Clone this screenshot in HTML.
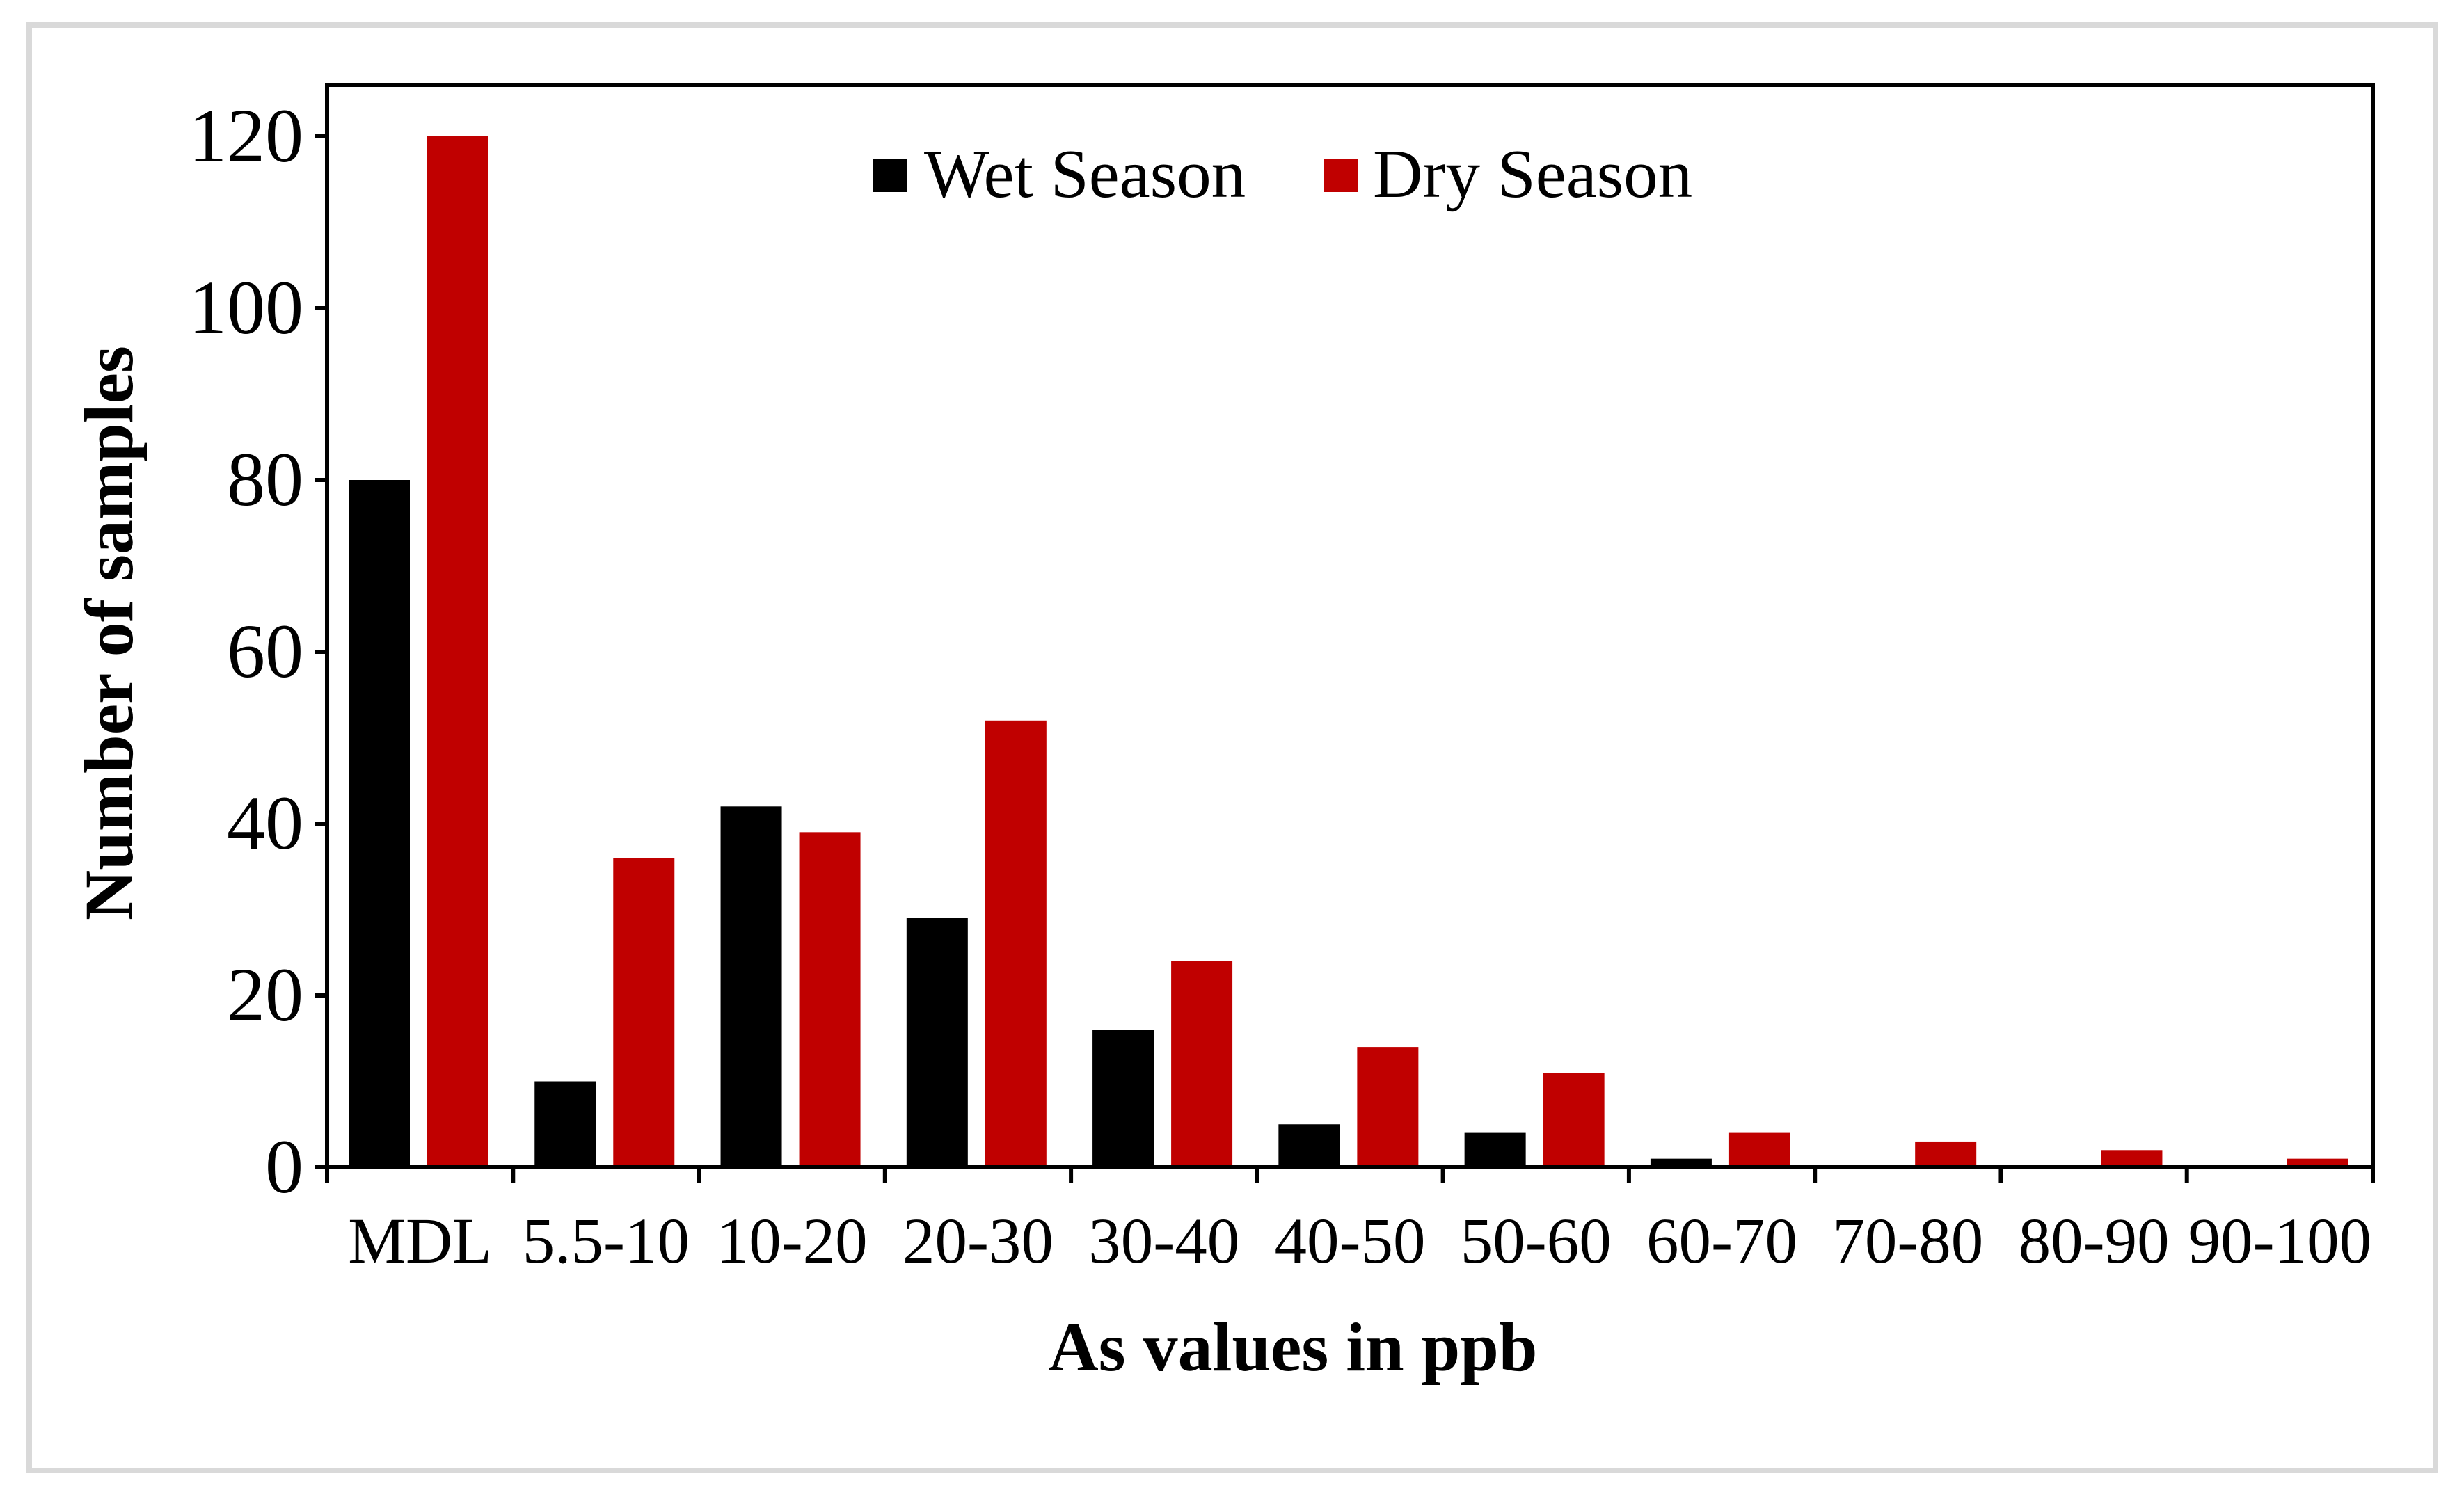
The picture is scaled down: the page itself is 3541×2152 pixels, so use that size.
<!DOCTYPE html>
<html><head><meta charset="utf-8"><style>
body{margin:0;background:#fff}
svg{display:block}
text{font-family:"Liberation Serif",serif;fill:#000}
</style></head><body>
<svg id="chart" width="3541" height="2152" viewBox="0 0 3541 2152">
<rect x="42" y="36" width="3458" height="2078" fill="#fff" stroke="#d9d9d9" stroke-width="8"/>
<g id="plot"></g>
</svg>
<script>
const categories=["MDL","5.5-10","10-20","20-30","30-40","40-50","50-60","60-70","70-80","80-90","90-100"];
const wetValues=[80,10,42,29,16,5,4,1,0,0,0];
const dryValues=[120,36,39,52,24,14,11,4,3,2,1];
const yTicks=[0,20,40,60,80,100,120];
const L=470,R=3410,T=122,B=1678,yMax=120,yTop=196;
const NS="http://www.w3.org/2000/svg";
const g=document.getElementById('plot');
function y(v){return B-(B-yTop)*v/yMax;}
const bw=(R-L)/categories.length;
function x(i){return L+bw*i;}
function mk(t,a){const e=document.createElementNS(NS,t);for(const k in a)e.setAttribute(k,a[k]);g.appendChild(e);return e;}
categories.forEach((c,i)=>{
  const hw=B-y(wetValues[i]);
  const b1=mk('rect',{x:x(i)+31,y:y(wetValues[i]),width:88,height:hw,fill:'#000'});
  
  
  const hd=B-y(dryValues[i]);
  const b2=mk('rect',{x:x(i)+144,y:y(dryValues[i]),width:88,height:hd,fill:'#c00000'});
  
  
  const lb=mk('text',{x:x(i)+bw/2,y:1815,'font-size':93,'text-anchor':'middle'});
  lb.textContent=c;
  
  
  const tk=mk('line',{x1:x(i),x2:x(i),y1:B,y2:1700,stroke:'#000','stroke-width':6});
  
  
});
const tkl=mk('line',{x1:R,x2:R,y1:B,y2:1700,stroke:'#000','stroke-width':6});


yTicks.forEach(v=>{
  const t=mk('line',{x1:452,x2:L,y1:y(v),y2:y(v),stroke:'#000','stroke-width':6});
  
  
  const tl=mk('text',{x:436,y:y(v)+36,'font-size':110,'text-anchor':'end'});
  tl.textContent=v;
  
  
});
const frame=mk('rect',{x:L,y:T,width:R-L,height:B-T,fill:'none',stroke:'#000','stroke-width':6});


const xt=mk('text',{x:1858,y:1970,'font-size':100,'font-weight':'bold','text-anchor':'middle'});
xt.textContent='As values in ppb';


const yt=mk('text',{x:0,y:0,'font-size':100,'font-weight':'bold','text-anchor':'middle',transform:'translate(190,910) rotate(-90)'});
yt.textContent='Number of samples';


const s1=mk('rect',{x:1255,y:228,width:48,height:48,fill:'#000'});


const l1=mk('text',{x:1328,y:283,'font-size':99});
l1.textContent='Wet Season';


const s2=mk('rect',{x:1903,y:228,width:48,height:48,fill:'#c00000'});


const l2=mk('text',{x:1973,y:283,'font-size':99});
l2.textContent='Dry Season';


</script>
</body></html>
